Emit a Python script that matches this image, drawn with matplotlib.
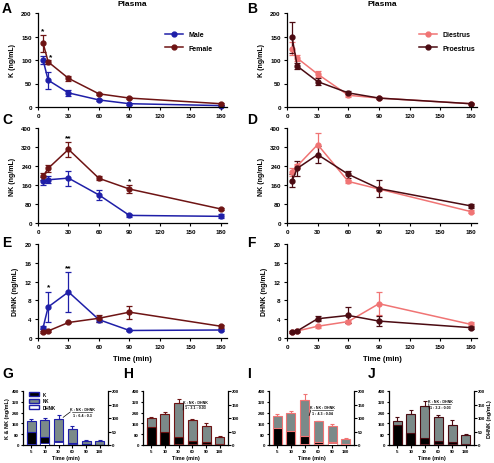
import matplotlib
matplotlib.use('Agg')
import matplotlib.pyplot as plt
import numpy as np
from matplotlib.patches import Patch
from matplotlib.lines import Line2D

plt.rcParams['font.family'] = ['Liberation Sans', 'DejaVu Sans']
plt.rcParams['font.weight'] = 'bold'

W, H = 494, 464

times = [5, 10, 30, 60, 90, 180]
time_labels = ['5', '10', '30', '60', '90', '180']

# K (ng/mL)
k_male = [100, 57, 30, 15, 7, 3]
k_male_err = [8, 18, 6, 2, 2, 1]
k_female = [136, 96, 61, 28, 19, 7]
k_female_err = [18, 5, 5, 2, 2, 2]
k_di = [124, 104, 70, 25, 19, 7]
k_di_err = [14, 6, 6, 3, 2, 1]
k_pro = [148, 87, 54, 30, 19, 7]
k_pro_err = [33, 6, 7, 3, 2, 1]

# NK (ng/mL)
nk_male = [176, 182, 189, 118, 32, 28]
nk_male_err = [17, 15, 32, 20, 8, 8]
nk_female = [197, 230, 310, 188, 143, 59]
nk_female_err = [14, 14, 30, 8, 17, 4]
nk_di = [215, 240, 330, 175, 143, 48]
nk_di_err = [15, 10, 50, 5, 10, 5]
nk_pro = [178, 230, 288, 205, 145, 72]
nk_pro_err = [27, 30, 35, 15, 37, 10]

# DHNK (ng/mL)
dh_male = [2.2, 6.6, 9.8, 3.9, 1.6, 1.7]
dh_male_err = [0.3, 3.2, 4.2, 0.5, 0.2, 0.3]
dh_female = [1.3, 1.5, 3.3, 4.2, 5.5, 2.5]
dh_female_err = [0.2, 0.2, 0.2, 0.8, 1.4, 0.3]
dh_di = [1.3, 1.5, 2.5, 3.5, 7.3, 2.9]
dh_di_err = [0.2, 0.2, 0.3, 0.4, 2.4, 0.5]
dh_pro = [1.2, 1.5, 4.1, 4.8, 3.6, 2.2]
dh_pro_err = [0.2, 0.2, 0.5, 1.7, 1.1, 0.3]

ratios = ['1 : 6.4 : 0.3', '1 : 3.1 : 0.03', '1 : 4.3 : 0.04', '1 : 3.2 : 0.03']

c_male = '#1f1fa8'
c_female = '#6e1414'
c_di = '#f07474'
c_pro = '#4b0b12'
c_gray = '#7b8a89'

fig = plt.figure(figsize=(W / 100, H / 100), dpi=100)


def add_ax(x0, y0, x1, y1):
    return fig.add_axes([x0 / W, 1 - y1 / H, (x1 - x0) / W, (y1 - y0) / H])


def style(ax, size=4.5, length=2.5, pad=2):
    for s in ['top', 'right']:
        ax.spines[s].set_visible(False)
    for s in ['left', 'bottom']:
        ax.spines[s].set_linewidth(0.9)
    ax.tick_params(labelsize=size, width=0.8, length=length, pad=pad)
    for lab in ax.get_xticklabels() + ax.get_yticklabels():
        lab.set_fontweight('bold')


def line_panel(ax, series, ymax, ystep, ylabel, xlabel=None):
    for y, e, c, lab in series:
        ax.errorbar(times, y, yerr=e, color=c, marker='o', ms=3.5, lw=1.1,
                    elinewidth=0.9, capsize=2, capthick=0.9, clip_on=False)
    ax.set_xlim(0, 186)
    ax.set_ylim(0, ymax)
    ax.set_xticks([0, 30, 60, 90, 120, 150, 180])
    ax.set_yticks(np.arange(0, ymax + 1, ystep))
    ax.set_ylabel(ylabel, fontsize=5, fontweight='bold', labelpad=4)
    if xlabel:
        ax.set_xlabel(xlabel, fontsize=5.5, fontweight='bold', labelpad=4)
    style(ax)


def line_legend(ax, series, anchor):
    handles = [Line2D([0], [0], color=c, marker='o', ms=3.5, lw=1.1, label=lab)
               for c, lab in series]
    ax.legend(handles=handles, loc='upper left', bbox_to_anchor=anchor, fontsize=5,
              frameon=False, handlelength=2.6, labelspacing=0.9)


# Line panels
axA = add_ax(38, 14, 227, 108)
line_panel(axA, [(k_male, k_male_err, c_male, 'Male'),
                 (k_female, k_female_err, c_female, 'Female')], 200, 50, 'K (ng/mL)')
axA.set_title('Plasma', fontsize=6, fontweight='bold', pad=6)
line_legend(axA, [(c_male, 'Male'), (c_female, 'Female')], (0.64, 0.87))
axA.text(5, 160, '*', ha='center', fontsize=6)
axA.text(12, 104, '*', ha='center', fontsize=6)

axB = add_ax(287, 14, 477, 108)
line_panel(axB, [(k_di, k_di_err, c_di, 'Diestrus'),
                 (k_pro, k_pro_err, c_pro, 'Proestrus')], 200, 50, 'K (ng/mL)')
axB.set_title('Plasma', fontsize=6, fontweight='bold', pad=6)
line_legend(axB, [(c_di, 'Diestrus'), (c_pro, 'Proestrus')], (0.66, 0.87))

axC = add_ax(38, 129, 227, 224)
line_panel(axC, [(nk_male, nk_male_err, c_male, 'Male'),
                 (nk_female, nk_female_err, c_female, 'Female')], 400, 80, 'NK (ng/mL)')
axC.text(30, 352, '**', ha='center', fontsize=6)
axC.text(90, 172, '*', ha='center', fontsize=6)

axD = add_ax(287, 129, 477, 224)
line_panel(axD, [(nk_di, nk_di_err, c_di, 'Diestrus'),
                 (nk_pro, nk_pro_err, c_pro, 'Proestrus')], 400, 80, 'NK (ng/mL)')

axE = add_ax(38, 245, 227, 339)
line_panel(axE, [(dh_male, dh_male_err, c_male, 'Male'),
                 (dh_female, dh_female_err, c_female, 'Female')], 20, 4, 'DHNK (ng/mL)',
           'Time (min)')
axE.text(10, 10.6, '*', ha='center', fontsize=6)
axE.text(30, 14.6, '**', ha='center', fontsize=6)

axF = add_ax(287, 245, 477, 339)
line_panel(axF, [(dh_di, dh_di_err, c_di, 'Diestrus'),
                 (dh_pro, dh_pro_err, c_pro, 'Proestrus')], 20, 4, 'DHNK (ng/mL)',
           'Time (min)')

# Bar panels
bar_sets = [
    (23, k_male, nk_male, nk_male_err, dh_male, dh_male_err, c_male),
    (143, k_female, nk_female, nk_female_err, dh_female, dh_female_err, c_female),
    (269, k_di, nk_di, nk_di_err, dh_di, dh_di_err, c_di),
    (389, k_pro, nk_pro, nk_pro_err, dh_pro, dh_pro_err, c_pro),
]
ann_pos = [(3.7, 245), (3.2, 300), (3.3, 258), (3.15, 305)]

xpos = np.arange(len(times))
for i, (x0, k, nk, nke, dh, dhe, c) in enumerate(bar_sets):
    ax = add_ax(x0, 392, x0 + 85, 446)
    ax2 = ax.twinx()
    ax.bar(xpos, nk, width=0.65, color=c_gray, edgecolor=c, linewidth=0.8,
           yerr=[np.zeros(6), nke], error_kw=dict(ecolor=c, elinewidth=0.8, capsize=1.5, capthick=0.8))
    ax.bar(xpos, k, width=0.65, color='black', edgecolor=c, linewidth=0.8)
    ax2.bar(xpos, dh, width=0.65, color='white', edgecolor=c, linewidth=0.6)
    ax.set_xlim(-0.6, 5.6)
    ax.set_ylim(0, 400)
    ax2.set_ylim(0, 200)
    ax.set_yticks([0, 80, 160, 240, 320, 400])
    ax2.set_yticks([0, 50, 100, 150, 200])
    ax.set_xticks(xpos)
    ax.set_xticklabels(time_labels)
    ax.set_xlabel('Time (min)', fontsize=4, fontweight='bold', labelpad=1.5)
    style(ax, 3.2, 1.8, 1.2)
    ax2.spines['top'].set_visible(False)
    ax2.spines['left'].set_visible(False)
    ax2.spines['bottom'].set_visible(False)
    ax2.spines['right'].set_linewidth(0.9)
    ax2.tick_params(labelsize=3.2, width=0.8, length=1.8, pad=1.2)
    for lab in ax2.get_yticklabels():
        lab.set_fontweight('bold')
    if i == 0:
        ax.set_ylabel('K & NK (ng/mL)', fontsize=4, fontweight='bold', labelpad=1.5)
        handles = [Patch(facecolor='black', edgecolor=c, label='K'),
                   Patch(facecolor=c_gray, edgecolor=c, label='NK'),
                   Patch(facecolor='white', edgecolor=c, label='DHNK')]
        ax.legend(handles=handles, loc='upper left', bbox_to_anchor=(0.02, 1.06),
                  fontsize=3.3, frameon=False, handlelength=2.2, handleheight=0.9,
                  labelspacing=0.3)
    if i == 3:
        ax2.set_ylabel('DHNK (ng/mL)', fontsize=4, fontweight='bold', labelpad=1.5)
    cx, ly = ann_pos[i]
    ax.plot([cx - 0.75, cx + 0.75], [ly, ly], color='black', lw=0.4)
    ax.plot([2.33, cx - 0.85], [ly - 40, ly], color='black', lw=0.5)
    ax.text(cx, ly + 6, 'K : NK : DHNK', ha='center', va='bottom', fontsize=2.6)
    ax.text(cx, ly - 6, ratios[i], ha='center', va='top', fontsize=2.6)

# Panel letters
for letter, (x, y) in zip('ABCDEFGHIJ', [(2, 2), (247, 2), (2, 113), (247, 113),
                                           (2, 236), (247, 236), (2, 367), (123, 367),
                                           (247, 367), (368, 367)]):
    fig.text(x / W, 1 - y / H, letter, fontsize=10, fontweight='bold', va='top')

fig.savefig('out.png', dpi=100)
